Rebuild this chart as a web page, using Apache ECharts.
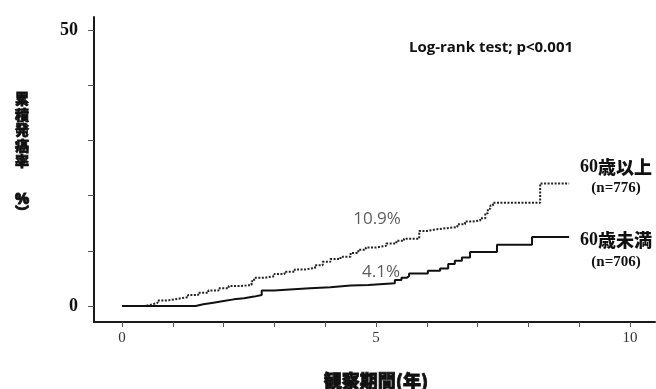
<!DOCTYPE html>
<html>
<head>
<meta charset="utf-8">
<script src="https://cdn.jsdelivr.net/npm/echarts@6.0.0/dist/echarts.min.js"></script>
<style>
  html, body { margin: 0; padding: 0; background: #fff; }
  #chart { width: 656px; height: 389px; }
</style>
</head>
<body>
<div id="chart"></div>
<script>
// Axis ticks and labels
const xTickValues = [0, 1, 2, 3, 4, 5, 6, 7, 8, 9, 10];
const xLabelValues = [0, 5, 10];
const yTickValues = [0, 10, 20, 30, 40, 50];
const yLabelValues = [0, 50];

// Cumulative incidence (%) — 60 years and over; each value holds from its time onward
const olderTimes = [0, 0.45, 0.6, 0.7, 0.9, 1.1, 1.3, 1.5, 1.7, 1.9, 2.1, 2.3, 2.55, 2.6, 2.8, 3.0, 3.2, 3.4, 3.6, 3.8, 3.95, 4.1, 4.3, 4.5, 4.65, 4.8, 5.0, 5.2, 5.4, 5.55, 5.85, 6.0, 6.2, 6.4, 6.6, 6.75, 6.9, 7.05, 7.15, 7.2, 7.25, 7.3, 8.23, 8.8];
const olderRates = [0, 0.3, 0.6, 1.0, 1.3, 1.6, 2.0, 2.4, 2.8, 3.2, 3.6, 3.8, 4.5, 5.1, 5.4, 5.8, 6.2, 6.6, 6.9, 7.4, 8.0, 8.5, 8.9, 9.6, 10.2, 10.6, 10.9, 11.3, 11.8, 12.2, 13.6, 13.9, 14.1, 14.3, 14.8, 15.3, 15.5, 15.9, 16.8, 17.6, 18.2, 18.7, 22.2, 22.2];

// Cumulative incidence (%) — under 60 years
const youngerTimes = [0, 1.45, 1.6, 1.8, 2.0, 2.2, 2.4, 2.6, 2.75, 3.0, 3.3, 3.7, 4.1, 4.5, 4.85, 5.37, 5.5, 5.6, 5.65, 6.02, 6.26, 6.42, 6.55, 6.69, 6.85, 7.38, 8.07, 8.8];
const youngerRates = [0, 0.3, 0.6, 0.9, 1.2, 1.4, 1.7, 2.0, 2.8, 3.0, 3.2, 3.4, 3.7, 3.8, 4.1, 4.7, 5.1, 5.4, 5.9, 6.4, 6.8, 7.6, 8.2, 8.8, 9.8, 11.1, 12.5, 12.5];

// Five-year rates written next to the curves
const fiveYear = 5;
const olderFiveYearRate = 10.9;
const youngerFiveYearRate = 4.1;

const groupNames = ['60歳以上', '60歳未満'];
const groupCounts = [776, 706];

const pairs = (ts, vs) => ts.map((t, i) => [t, vs[i]]);

const serif = '"Liberation Serif", "DejaVu Serif", serif';
const sans = '"Open Sans", "Noto Sans", sans-serif';
const cjk = '"Noto Sans CJK JP", sans-serif';
const ink = '#111';

const chart = echarts.init(document.getElementById('chart'), null, { renderer: 'canvas' });

function groupLabel(name) {
  const m = name.match(/^(\d+)(.*)$/);
  return '{n|' + m[1] + '}{c|' + m[2] + '}';
}

const labelRich = {
  n: { fontFamily: serif, fontWeight: 'bold', fontSize: 18, fill: ink },
  c: { fontFamily: cjk, fontWeight: 900, fontSize: 18, fill: ink }
};

// heavy CJK text: filled glyphs with a thin outline of the same colour
const heavy = (extra) => Object.assign({
  fontFamily: cjk, fontWeight: 900, fill: ink, stroke: ink, lineWidth: 0.8,
  align: 'center', verticalAlign: 'middle'
}, extra);

chart.setOption({
  animation: false,
  backgroundColor: '#fff',
  grid: { left: 94, top: 17, right: 1, bottom: 67, containLabel: false },
  xAxis: {
    type: 'value',
    min: -0.551,
    max: 10.49,
    splitLine: { show: false },
    axisLine: { show: true, onZero: false, lineStyle: { color: '#1a1a1a', width: 2 } },
    axisTick: { show: true, customValues: xTickValues, length: 5, lineStyle: { color: '#555', width: 1 } },
    axisLabel: {
      customValues: xLabelValues,
      margin: 9,
      fontFamily: serif, fontSize: 15, color: '#333'
    }
  },
  yAxis: {
    type: 'value',
    min: -2.9,
    max: 52.35,
    splitLine: { show: false },
    axisLine: { show: true, onZero: false, lineStyle: { color: '#1a1a1a', width: 2 } },
    axisTick: { show: true, customValues: yTickValues, length: 6, lineStyle: { color: '#555', width: 1 } },
    axisLabel: {
      customValues: yLabelValues,
      margin: 16,
      fontFamily: serif, fontWeight: 'bold', fontSize: 18, color: ink
    }
  },
  series: [
    {
      name: groupNames[0],
      type: 'line',
      step: 'end',
      symbol: 'none',
      data: pairs(olderTimes, olderRates),
      lineStyle: { color: '#222', width: 2, type: [2, 1.5] },
      z: 3
    },
    {
      name: groupNames[1],
      type: 'line',
      step: 'end',
      symbol: 'none',
      data: pairs(youngerTimes, youngerRates),
      lineStyle: { color: ink, width: 2, type: 'solid' },
      z: 3
    },
    {
      type: 'scatter',
      symbolSize: 0,
      silent: true,
      data: [[fiveYear, olderFiveYearRate]],
      label: {
        show: true, position: 'top', distance: 18, offset: [1, 0],
        formatter: p => p.value[1].toFixed(1) + '%',
        fontFamily: sans, fontSize: 17, color: '#333'
      }
    },
    {
      type: 'scatter',
      symbolSize: 0,
      silent: true,
      data: [[fiveYear, youngerFiveYearRate]],
      label: {
        show: true, position: 'top', distance: 3, offset: [5, 0],
        formatter: p => p.value[1].toFixed(1) + '%',
        fontFamily: sans, fontSize: 17, color: '#333'
      }
    }
  ],
  graphic: [
    {
      type: 'text', x: 22, y: 91,
      style: heavy({ text: '累\n積\n発\n癌\n率', fontSize: 14, lineHeight: 15.5, verticalAlign: 'top' })
    },
    {
      type: 'text', x: 22, y: 200,
      style: heavy({ text: '%', fontFamily: sans, fontSize: 15 })
    },
    {
      type: 'text', x: 22, y: 212,
      style: heavy({ text: '︶', fontSize: 14 })
    },
    {
      type: 'text', x: 376, y: 381,
      style: heavy({ text: '観察期間(年)', fontSize: 18 })
    },
    {
      type: 'text', x: 491, y: 48,
      style: { text: 'Log-rank test; p<0.001', fontFamily: sans, fontWeight: 'bold', fontSize: 15, fill: ink, align: 'center', verticalAlign: 'middle' }
    },
    {
      type: 'text', x: 616, y: 167,
      style: { text: groupLabel(groupNames[0]), rich: labelRich, align: 'center', verticalAlign: 'middle' }
    },
    {
      type: 'text', x: 616, y: 188,
      style: { text: '(n=' + groupCounts[0] + ')', fontFamily: serif, fontWeight: 'bold', fontSize: 15, fill: ink, align: 'center', verticalAlign: 'middle' }
    },
    {
      type: 'text', x: 616, y: 240,
      style: { text: groupLabel(groupNames[1]), rich: labelRich, align: 'center', verticalAlign: 'middle' }
    },
    {
      type: 'text', x: 616, y: 262,
      style: { text: '(n=' + groupCounts[1] + ')', fontFamily: serif, fontWeight: 'bold', fontSize: 15, fill: ink, align: 'center', verticalAlign: 'middle' }
    }
  ]
});
</script>
</body>
</html>
